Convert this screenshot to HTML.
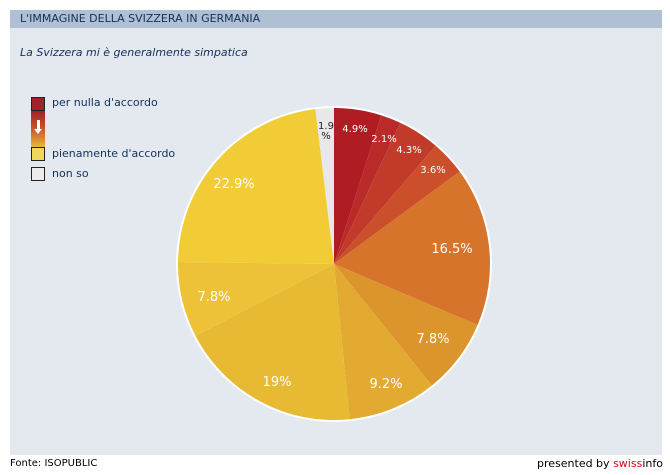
<!DOCTYPE html>
<html><head><meta charset="utf-8"><style>
body{margin:0;width:670px;height:475px;background:#fff;font-family:"DejaVu Sans","Liberation Sans",sans-serif;position:relative;overflow:hidden}
.panel{position:absolute;left:10px;top:10px;width:652px;height:445px;background:#e4e9f0}
.hdr{position:absolute;left:10px;top:10px;width:652px;height:18px;background:#b0c0d4;color:#13305a;font-size:11px;line-height:18px;}
.hdr span{margin-left:10px}
.t{position:absolute;color:#13305a;font-size:11px}
.sw{position:absolute;left:31px;width:14px;height:14px;border:1px solid #222;box-sizing:border-box}
</style></head><body>
<div class="panel"></div>
<div class="hdr"><span>L'IMMAGINE DELLA SVIZZERA IN GERMANIA</span></div>
<div class="t" style="left:20px;top:46px;font-style:italic">La Svizzera mi è generalmente simpatica</div>
<div class="sw" style="top:97px;background:#a0222a"></div>
<div style="position:absolute;left:31px;top:111px;width:14px;height:36px;background:linear-gradient(#a0222a,#c8552a,#e8b838)"></div>
<div style="position:absolute;left:37px;top:120px;width:3px;height:10px;background:#fff"></div>
<div style="position:absolute;left:34px;top:129px;width:0;height:0;border-left:4.5px solid transparent;border-right:4.5px solid transparent;border-top:5px solid #fff"></div>
<div class="sw" style="top:147px;background:#f0d858"></div>
<div class="sw" style="top:167px;background:#ececec"></div>
<div class="t" style="left:52px;top:96px">per nulla d'accordo</div>
<div class="t" style="left:52px;top:147px">pienamente d'accordo</div>
<div class="t" style="left:52px;top:167px">non so</div>
<svg id="pie" width="670" height="475" style="position:absolute;left:0;top:0"></svg>
<div class="t" style="left:10px;top:458px;font-size:10px;color:#000">Fonte: ISOPUBLIC</div>
<div class="t" style="left:537px;top:457px;font-size:11px;color:#000">presented by <span style="color:#e2001a">swiss</span>info</div>
<script>
var d=[[4.9,'#b01c24'],[2.1,'#b92a28'],[4.3,'#c23a2a'],[3.6,'#ca4f2a'],[16.5,'#d6742c'],[7.8,'#dc942c'],[9.2,'#e2aa30'],[19,'#e8ba34'],[7.8,'#eec238'],[22.9,'#f2cc36'],[1.9,'#e8e8e8']];
var cx=334,cy=264,r=156,a=0,s='<circle cx="'+cx+'" cy="'+cy+'" r="'+(r+2)+'" fill="#fff"/>';
d.forEach(function(e){var a2=a+e[0]*3.6;var p=function(x){var t=x*Math.PI/180;return [cx+r*Math.sin(t),cy-r*Math.cos(t)]};var p1=p(a),p2=p(a2);
s+='<path d="M'+cx+','+cy+'L'+p1[0]+','+p1[1]+'A'+r+','+r+' 0 '+(a2-a>180?1:0)+' 1 '+p2[0]+','+p2[1]+'Z" fill="'+e[1]+'"/>';a=a2;});
var L=[[355,132,'4.9%'],[384,142,'2.1%'],[409,153,'4.3%'],[433,173,'3.6%'],[452,253,'16.5%'],[433,343,'7.8%'],[386,388,'9.2%'],[277,386,'19%'],[214,301,'7.8%'],[234,188,'22.9%']];
L.forEach(function(l){var big=l[2]!='4.9%'&&l[2]!='2.1%'&&l[2]!='4.3%'&&l[2]!='3.6%';s+='<text x="'+l[0]+'" y="'+l[1]+'" fill="#fff" font-size="'+(big?13:10)+'" text-anchor="middle" font-family="DejaVu Sans,sans-serif">'+l[2]+'</text>'});
s+='<text x="326" y="129" font-size="10" text-anchor="middle" fill="#222" font-family="DejaVu Sans,sans-serif">1.9</text><text x="326" y="139" font-size="10" text-anchor="middle" fill="#222" font-family="DejaVu Sans,sans-serif">%</text>';
document.getElementById('pie').innerHTML=s;
</script>
</body></html>
